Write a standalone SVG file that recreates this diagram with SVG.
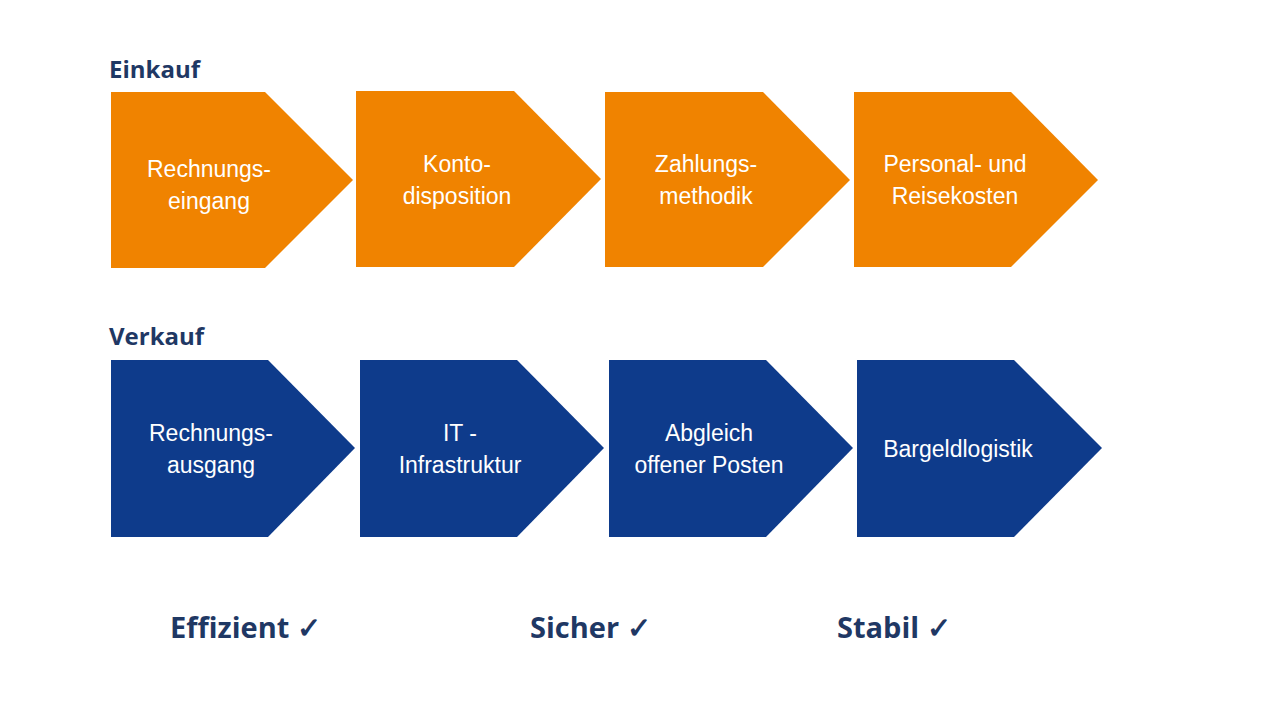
<svg xmlns="http://www.w3.org/2000/svg" width="1280" height="720" viewBox="0 0 1280 720">
<style>
.o{fill:#F08300}.b{fill:#0E3B8B}
.t{font-family:"Liberation Sans",Arial,sans-serif;font-size:23px;fill:#fff;text-anchor:middle}
.h{font-family:"Open Sans","Liberation Sans",sans-serif;font-weight:bold;font-size:24px;fill:#1F3864}
.f{font-family:"Open Sans","Liberation Sans",sans-serif;font-weight:bold;font-size:29px;fill:#1F3864}
</style>
<rect width="1280" height="720" fill="#fff"/>
<text class="h" x="109" y="78">Einkauf</text>
<text class="h" x="109" y="345">Verkauf</text>
<g id="e1"><polygon class="o" points="111,92 265,92 353,180 265,268 111,268"/><text class="t" x="209" y="177">Rechnungs-</text><text class="t" x="209" y="209">eingang</text></g>
<g id="e2"><polygon class="o" points="356,91 514,91 601,179 514,267 356,267"/><text class="t" x="457" y="172">Konto-</text><text class="t" x="457" y="204">disposition</text></g>
<g id="e3"><polygon class="o" points="605,92 763,92 850,180 763,267 605,267"/><text class="t" x="706" y="172">Zahlungs-</text><text class="t" x="706" y="204">methodik</text></g>
<g id="e4"><polygon class="o" points="854,92 1011,92 1098,180 1011,267 854,267"/><text class="t" x="955" y="172">Personal- und</text><text class="t" x="955" y="204">Reisekosten</text></g>
<g id="v1"><polygon class="b" points="111,360 268,360 355,448 268,537 111,537"/><text class="t" x="211" y="441">Rechnungs-</text><text class="t" x="211" y="473">ausgang</text></g>
<g id="v2"><polygon class="b" points="360,360 517,360 604,448 517,537 360,537"/><text class="t" x="460" y="441">IT -</text><text class="t" x="460" y="473">Infrastruktur</text></g>
<g id="v3"><polygon class="b" points="609,360 766,360 853,448 766,537 609,537"/><text class="t" x="709" y="441">Abgleich</text><text class="t" x="709" y="473">offener Posten</text></g>
<g id="v4"><polygon class="b" points="857,360 1014,360 1102,448 1014,537 857,537"/><text class="t" x="958" y="457">Bargeldlogistik</text></g>
<g id="connectors"></g>
<text class="f" x="170" y="638">Effizient ✓</text>
<text class="f" x="530" y="638">Sicher ✓</text>
<text class="f" x="837" y="638">Stabil ✓</text>
</svg>
